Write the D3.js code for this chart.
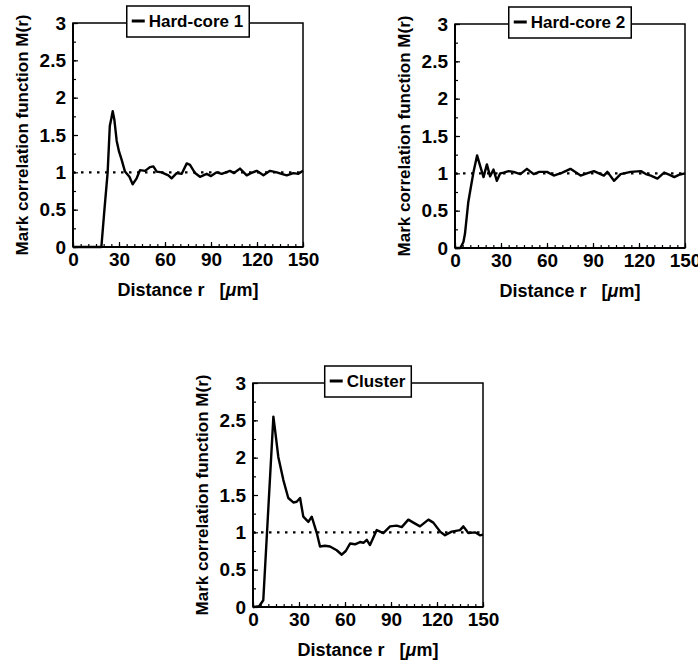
<!DOCTYPE html>
<html>
<head>
<meta charset="utf-8">
<script src="https://cdn.jsdelivr.net/npm/d3@7"></script>
<style>
  body { margin: 0; background: #fff; }
  text { font-family: "Liberation Sans", Arial, sans-serif; font-weight: bold; }
</style>
</head>
<body>
<div id="chart"></div>
<script>

// values
let hc1R = [0, 18.5, 20.5, 22.6, 24, 25, 25.9, 27, 28.5, 30, 31.7, 33.9, 36.8, 38.9, 41.5, 43.7, 47, 50.2, 52.4, 54.6, 57.8, 60, 62.2, 64.3, 67.6, 70.9, 74.2, 76.3, 79.6, 82.8, 87.2, 90, 93.7, 97, 102.4, 105, 108.9, 113.3, 116, 119.8, 124.2, 128.5, 132.9, 136, 139.4, 143.7, 147, 150];
let hc1M = [0, 0, 0.5, 1.0, 1.62, 1.72, 1.82, 1.7, 1.42, 1.28, 1.17, 1.01, 0.94, 0.84, 0.92, 1.03, 1.02, 1.07, 1.08, 1.01, 1.0, 0.98, 0.96, 0.92, 0.99, 0.98, 1.12, 1.1, 0.99, 0.94, 0.98, 0.95, 1.0, 0.98, 1.02, 0.99, 1.05, 0.96, 0.99, 1.02, 0.96, 1.02, 1.0, 0.98, 0.96, 0.99, 0.98, 1.02];

let hc2R = [0, 3.5, 5.5, 6.5, 8.7, 10.3, 12, 14.4, 16.4, 18.6, 20.8, 22.9, 25.1, 27.3, 29.5, 31.7, 35, 38.2, 42.6, 46.9, 51.3, 55, 60, 64.4, 70, 75.3, 81.9, 86, 90.6, 97.1, 99.4, 103.7, 108, 114.6, 121.2, 124.5, 127.7, 132, 136.4, 140, 143, 146, 150];
let hc2M = [0, 0, 0.08, 0.19, 0.62, 0.81, 1.01, 1.24, 1.1, 0.95, 1.12, 0.96, 1.05, 0.9, 1.0, 1.01, 1.03, 1.02, 0.99, 1.06, 0.99, 1.02, 1.02, 0.97, 1.01, 1.06, 0.97, 1.0, 1.03, 0.97, 1.02, 0.9, 0.99, 1.02, 1.03, 0.99, 0.97, 0.93, 1.01, 0.98, 0.95, 0.98, 1.0];

let clR = [0, 4, 6.7, 13.3, 14.4, 16.5, 19.8, 23, 26.3, 28.5, 30.7, 32.8, 36.1, 38.3, 41.6, 43.7, 47, 50.2, 54.6, 57.9, 60.5, 63.3, 66.5, 69.8, 72, 74.2, 76.3, 80.7, 85, 89.4, 93.7, 97, 101.3, 104.6, 108.9, 114.4, 117.6, 122, 125.2, 129.6, 135, 137.2, 140.4, 144.8, 148, 150];
let clM = [0, 0.01, 0.09, 2.55, 2.37, 2.01, 1.7, 1.46, 1.4, 1.41, 1.46, 1.21, 1.14, 1.21, 0.99, 0.81, 0.82, 0.81, 0.76, 0.7, 0.75, 0.85, 0.84, 0.87, 0.86, 0.9, 0.83, 1.03, 0.99, 1.08, 1.09, 1.07, 1.17, 1.13, 1.08, 1.17, 1.13, 1.01, 0.96, 1.01, 1.03, 1.08, 0.99, 1.0, 0.96, 0.97];

let xTicks = [0, 30, 60, 90, 120, 150];
let yTicks = [0, 0.5, 1, 1.5, 2, 2.5, 3];
let yTickLabels = ["0", "0.5", "1", "1.5", "2", "2.5", "3"];

let panels = [
  {name: "Hard-core 1", r: hc1R, m: hc1M, left: 73, top: 23},
  {name: "Hard-core 2", r: hc2R, m: hc2M, left: 455, top: 24},
  {name: "Cluster", r: clR, m: clM, left: 253, top: 383}
];

let pw = 230; let ph = 224;

let svg = d3.select("#chart")
    .append("svg")
    .attr("width", 698)
    .attr("height", 666);

svg.append("rect").attr("width", 698).attr("height", 666).attr("fill", "#fff");

for (let p of panels) {
  drawPanel(p);
}


function drawPanel (p) {

  let g = svg.append("g")
      .attr("transform", `translate(${p.left},${p.top})`);

  let x = d3.scaleLinear().domain([0, 150]).range([0, pw]);
  let y = d3.scaleLinear().domain([0, 3]).range([ph, 0]);

  // frame
  g.append("rect")
      .attr("width", pw)
      .attr("height", ph)
      .attr("fill", "none")
      .attr("stroke", "#000")
      .attr("stroke-width", 1.5);

  // minor ticks
  let xa = d3.axisBottom(x).tickValues(d3.range(0, 151, 5)).tickSize(-3).tickFormat("");
  g.append("g").attr("transform", `translate(0,${ph})`).call(xa).call(cleanAxis);
  let ya = d3.axisLeft(y).tickValues(d3.range(0, 3.01, 0.25)).tickSize(-3).tickFormat("");
  g.append("g").call(ya).call(cleanAxis);

  // major ticks + labels
  let xAxis = d3.axisBottom(x).tickValues(xTicks).tickSize(-5).tickPadding(6);
  g.append("g").attr("transform", `translate(0,${ph})`).call(xAxis).call(cleanAxis);

  let yAxis = d3.axisLeft(y).tickValues(yTicks).tickSize(-5).tickPadding(7)
      .tickFormat((d, i) => yTickLabels[i]);
  g.append("g").call(yAxis).call(cleanAxis);

  // heavier left and bottom axis lines
  g.append("line").attr("x1", 0).attr("x2", 0).attr("y1", 0).attr("y2", ph)
      .attr("stroke", "#000").attr("stroke-width", 2);
  g.append("line").attr("x1", 0).attr("x2", pw).attr("y1", ph).attr("y2", ph)
      .attr("stroke", "#000").attr("stroke-width", 2);

  // reference line at 1
  g.append("line")
      .attr("x1", x(0)).attr("x2", x(150))
      .attr("y1", y(1)).attr("y2", y(1))
      .attr("stroke", "#000")
      .attr("stroke-width", 2.2)
      .attr("stroke-dasharray", "2.5,5.5");

  let line = d3.line()
      .x((d, i) => x(p.r[i]))
      .y((d, i) => y(p.m[i]));

  g.append("path")
      .datum(p.m)
      .attr("d", line)
      .attr("fill", "none")
      .attr("stroke", "#000")
      .attr("stroke-width", 2.4)
      .attr("stroke-linejoin", "round");

  // axis titles
  let xt = g.append("text")
      .attr("x", pw / 2)
      .attr("y", ph + 49)
      .attr("text-anchor", "middle")
      .attr("font-size", 18)
      .style("white-space", "pre");
  xt.append("tspan").text("Distance r   [");
  xt.append("tspan").attr("font-style", "italic").text("\u03bc");
  xt.append("tspan").text("m]");

  g.append("text")
      .attr("transform", `translate(-51,${ph / 2}) rotate(-90)`)
      .attr("text-anchor", "middle")
      .attr("dy", "0.35em")
      .attr("font-size", 17)
      .text("Mark correlation function M(r)");

  // legend
  let lg = g.append("g").attr("transform", `translate(${pw / 2},-2)`);
  let lt = lg.append("text")
      .attr("x", 8)
      .attr("dy", "0.35em")
      .attr("text-anchor", "middle")
      .attr("font-size", 17)
      .text(p.name);
  let tw = lt.node().getComputedTextLength();
  let bw = tw + 28;
  lg.insert("rect", "text")
      .attr("x", -bw / 2)
      .attr("y", -15)
      .attr("width", bw)
      .attr("height", 31)
      .attr("fill", "#fff")
      .attr("stroke", "#000")
      .attr("stroke-width", 1.5);
  lg.append("line")
      .attr("x1", -bw / 2 + 5).attr("x2", -bw / 2 + 18)
      .attr("y1", 0).attr("y2", 0)
      .attr("stroke", "#000")
      .attr("stroke-width", 3);
}


// HELPER FUNCTIONS

function cleanAxis (sel) {
  sel.select(".domain").remove();
  sel.selectAll(".tick line").attr("stroke", "#000").attr("stroke-width", 1.2);
  sel.selectAll(".tick text")
      .attr("fill", "#000")
      .attr("font-size", 19)
      .attr("font-family", "Liberation Sans, Arial, sans-serif")
      .attr("font-weight", "bold");
}

</script>
</body>
</html>
